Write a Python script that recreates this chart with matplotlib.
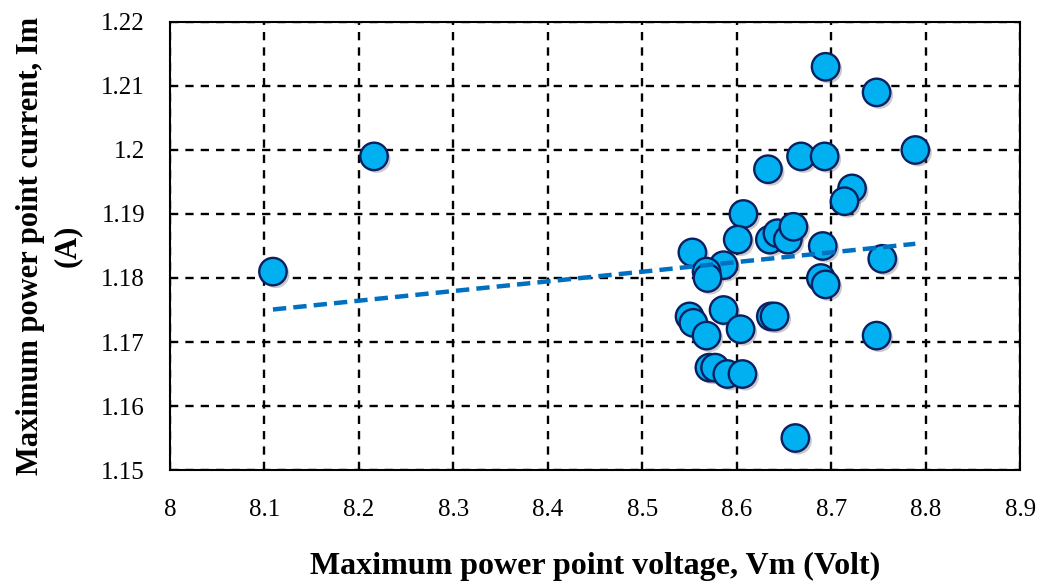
#!/usr/bin/env python3
"""Scatter of maximum power point current vs voltage with a linear trendline."""

import matplotlib

matplotlib.use("Agg")
import matplotlib.pyplot as plt
import matplotlib.patheffects as pe
import numpy as np

# Vm (Volt), Im (A) for each measurement
VM = [8.109, 8.216, 8.694, 8.748, 8.789, 8.633, 8.668, 8.693, 8.722, 8.714,
      8.607, 8.601, 8.635, 8.643, 8.654, 8.660, 8.691, 8.754, 8.689, 8.694,
      8.553, 8.586, 8.568, 8.569, 8.586, 8.550, 8.554, 8.568, 8.604, 8.636,
      8.640, 8.748, 8.571, 8.577, 8.590, 8.606, 8.662]
IM = [1.181, 1.199, 1.213, 1.209, 1.200, 1.197, 1.199, 1.199, 1.194, 1.192,
      1.190, 1.186, 1.186, 1.187, 1.186, 1.188, 1.185, 1.183, 1.180, 1.179,
      1.184, 1.182, 1.181, 1.180, 1.175, 1.174, 1.173, 1.171, 1.172, 1.174,
      1.174, 1.171, 1.166, 1.166, 1.165, 1.165, 1.155]

X_TICKS = [8.0, 8.1, 8.2, 8.3, 8.4, 8.5, 8.6, 8.7, 8.8, 8.9]
Y_TICKS = [1.15, 1.16, 1.17, 1.18, 1.19, 1.20, 1.21, 1.22]

plt.rcParams["font.family"] = ["Liberation Serif", "DejaVu Serif"]

fig = plt.figure(figsize=(10.41, 5.83), dpi=100)
ax = fig.add_axes([0.1633, 0.1938, 0.8167, 0.7685])

vm = np.array(VM)
im = np.array(IM)

ax.scatter(vm, im, s=390, facecolor="#00B0F0", edgecolor="#0A2060",
           linewidth=1.7, zorder=3,
           path_effects=[pe.SimplePatchShadow(offset=(2, -2), alpha=0.3,
                                              shadow_rgbFace="#555555"),
                         pe.Normal()])

# least-squares trendline over the data range
k, b = np.polyfit(vm, im, 1)
xs = np.array([vm.min(), vm.max()])
ax.plot(xs, k * xs + b, color="#0070C0", lw=3.2, ls=(0, (3, 1.6)), zorder=4)

ax.set_xlim(8.0, 8.9)
ax.set_ylim(1.15, 1.22)
ax.set_xticks(X_TICKS)
ax.set_xticklabels([f"{t:g}" for t in X_TICKS])
ax.set_yticks(Y_TICKS)
ax.set_yticklabels([f"{t:g}" for t in Y_TICKS])
ax.tick_params(axis="x", direction="in", length=5, width=1.2, pad=21,
               labelsize=18)
ax.tick_params(axis="y", length=0, pad=18, labelsize=18)

ax.grid(True, color="black", lw=1.7, ls=(0, (3.5, 3)))
ax.set_axisbelow(True)
for sp in ax.spines.values():
    sp.set_linewidth(1.5)

ax.set_xlabel("Maximum power point voltage, Vm (Volt)", fontsize=23,
              fontweight="bold", labelpad=22)
ax.set_ylabel("Maximum power point current, Im\n(A)", fontsize=22,
              fontweight="bold", labelpad=14, linespacing=1.35)

fig.savefig("out.png", dpi=100)
